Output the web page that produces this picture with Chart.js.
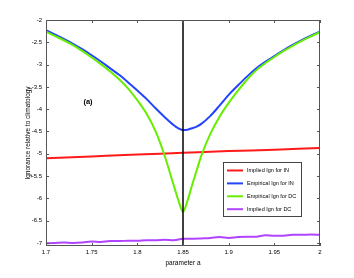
<!DOCTYPE html>
<html>
<head>
<meta charset="utf-8">
<script src="https://cdn.jsdelivr.net/npm/chart.js"></script>
<style>
html, body { margin: 0; padding: 0; background: #fff; }
#wrap { width: 354px; height: 278px; }
</style>
</head>
<body>
<div id="wrap"><canvas id="chart" width="354" height="278"></canvas></div>
<script>
// parameter a (x axis), shared by most series
const paramA = [1.70, 1.71, 1.72, 1.73, 1.74, 1.75, 1.76, 1.77, 1.78, 1.79, 1.80,
                1.81, 1.82, 1.83, 1.84, 1.845, 1.85, 1.855, 1.86, 1.865, 1.87, 1.88, 1.89, 1.90,
                1.91, 1.92, 1.93, 1.94, 1.95, 1.96, 1.97, 1.98, 1.99, 2.00];

// Empirical Ign for IN (blue)
const empiricalIN = [-2.23, -2.33, -2.43, -2.54, -2.66, -2.79, -2.93, -3.08, -3.23, -3.40, -3.58,
                     -3.77, -3.98, -4.18, -4.36, -4.43, -4.47, -4.46, -4.43, -4.39, -4.33, -4.15, -3.92, -3.68,
                     -3.47, -3.27, -3.09, -2.94, -2.81, -2.68, -2.56, -2.45, -2.35, -2.26];

// Empirical Ign for DC (green), sharp dip at 1.85
const empiricalDC = [-2.26, -2.36, -2.46, -2.57, -2.70, -2.84, -2.99, -3.15, -3.33, -3.54, -3.80,
                     -4.10, -4.50, -5.05, -5.72, -6.05, -6.30, -6.05, -5.70, -5.37, -5.05, -4.55, -4.17, -3.86,
                     -3.59, -3.34, -3.13, -2.97, -2.83, -2.70, -2.58, -2.47, -2.37, -2.27];

// Implied Ign for IN (red)
const paramAIN = [1.70, 1.75, 1.80, 1.85, 1.90, 1.95, 2.00];
const impliedIN = [-5.10, -5.06, -5.02, -4.98, -4.94, -4.91, -4.87];

// Implied Ign for DC (purple)
const paramAImp = [1.70, 1.71, 1.72, 1.73, 1.74, 1.75, 1.76, 1.77, 1.78, 1.79, 1.80,
                   1.81, 1.82, 1.83, 1.84, 1.85, 1.86, 1.87, 1.88, 1.89, 1.90,
                   1.91, 1.92, 1.93, 1.94, 1.95, 1.96, 1.97, 1.98, 1.99, 2.00];
const impliedDC = [-7.01, -7.00, -6.99, -7.00, -6.99, -6.97, -6.98, -6.96, -6.96, -6.95, -6.95,
                   -6.94, -6.94, -6.93, -6.94, -6.91, -6.91, -6.90, -6.89, -6.87, -6.89,
                   -6.87, -6.86, -6.86, -6.83, -6.84, -6.84, -6.82, -6.82, -6.81, -6.82];

const seriesLabels = ['Implied Ign for IN', 'Empirical Ign for IN', 'Empirical Ign for DC', 'Implied Ign for DC'];
const xTickValues = [1.7, 1.75, 1.8, 1.85, 1.9, 1.95, 2.0];
const yTickValues = [-7, -6.5, -6, -5.5, -5, -4.5, -4, -3.5, -3, -2.5, -2];
const markerA = 1.85;

const tickFont = { family: '"Liberation Sans", Arial, sans-serif', size: 6 };
const titleFont = { family: '"Liberation Sans", Arial, sans-serif', size: 6.5 };

function toPoints(xs, ys) {
    return xs.map((v, i) => ({ x: v, y: ys[i] }));
}

function fmt(v) {
    return String(Math.round(v * 100) / 100);
}

/**
 * Box, inward ticks, vertical marker, "(a)" and the legend (MATLAB look)
 */
const matlabFrame = {
    id: 'matlabFrame',
    afterDatasetsDraw(chart) {
        const { ctx, chartArea: a, scales: { x, y } } = chart;
        ctx.save();

        // vertical marker line
        const mx = x.getPixelForValue(markerA);
        ctx.strokeStyle = '#000';
        ctx.lineWidth = 1.5;
        ctx.beginPath();
        ctx.moveTo(mx, a.top);
        ctx.lineTo(mx, a.bottom);
        ctx.stroke();

        // box
        ctx.strokeStyle = '#555';
        ctx.lineWidth = 1;
        ctx.strokeRect(a.left + 0.5, a.top + 0.5, a.width - 1, a.height - 1);

        // inward ticks on all four sides
        const tl = 3;
        ctx.beginPath();
        xTickValues.forEach(v => {
            const px = Math.round(x.getPixelForValue(v)) + 0.5;
            ctx.moveTo(px, a.bottom); ctx.lineTo(px, a.bottom - tl);
            ctx.moveTo(px, a.top); ctx.lineTo(px, a.top + tl);
        });
        yTickValues.forEach(v => {
            const py = Math.round(y.getPixelForValue(v)) + 0.5;
            ctx.moveTo(a.left, py); ctx.lineTo(a.left + tl, py);
            ctx.moveTo(a.right, py); ctx.lineTo(a.right - tl, py);
        });
        ctx.stroke();

        // panel label
        ctx.fillStyle = '#000';
        ctx.font = 'bold 7.5px "Liberation Sans", Arial, sans-serif';
        ctx.textAlign = 'center';
        ctx.textBaseline = 'middle';
        ctx.fillText('(a)', x.getPixelForValue(1.746), y.getPixelForValue(-3.84));

        // legend
        const lx = a.left + 177, ly = a.top + 142, lw = 78, lh = 54;
        ctx.fillStyle = '#fff';
        ctx.fillRect(lx, ly, lw, lh);
        ctx.strokeStyle = '#444';
        ctx.strokeRect(lx + 0.5, ly + 0.5, lw, lh);
        ctx.font = '5.5px "Liberation Sans", Arial, sans-serif';
        ctx.textAlign = 'left';
        chart.data.datasets.forEach((ds, i) => {
            const ry = ly + 8.5 + i * 12.9;
            ctx.strokeStyle = ds.borderColor;
            ctx.lineWidth = 2;
            ctx.beginPath();
            ctx.moveTo(lx + 4, ry);
            ctx.lineTo(lx + 20, ry);
            ctx.stroke();
            ctx.fillStyle = '#000';
            ctx.fillText(ds.label, lx + 24, ry);
        });
        ctx.restore();
    }
};

const chart = new Chart(document.getElementById('chart'), {
    type: 'line',
    data: {
        datasets: [
            { label: seriesLabels[0], data: toPoints(paramAIN, impliedIN), borderColor: '#ff1a1a', order: 3 },
            { label: seriesLabels[1], data: toPoints(paramA, empiricalIN), borderColor: '#2244ff', order: 2 },
            { label: seriesLabels[2], data: toPoints(paramA, empiricalDC), borderColor: '#66ee00', order: 1 },
            { label: seriesLabels[3], data: toPoints(paramAImp, impliedDC), borderColor: '#b044ff', order: 0 }
        ]
    },
    options: {
        responsive: false,
        animation: false,
        devicePixelRatio: 1,
        layout: { padding: { left: 24, right: 34, top: 20, bottom: 11 } },
        elements: {
            point: { radius: 0 },
            line: { borderWidth: 2, cubicInterpolationMode: 'monotone', fill: false }
        },
        plugins: {
            legend: { display: false },
            tooltip: { enabled: false }
        },
        scales: {
            x: {
                type: 'linear',
                min: 1.7,
                max: 2.0,
                grid: { display: false, drawTicks: false },
                border: { display: false },
                ticks: { padding: 3, font: tickFont, color: '#000', autoSkip: false, maxRotation: 0, callback: fmt },
                afterBuildTicks: s => { s.ticks = xTickValues.map(v => ({ value: v })); },
                afterFit: s => { s.height = 21; },
                title: { display: true, text: 'parameter a', font: titleFont, color: '#000', padding: 0 }
            },
            y: {
                type: 'linear',
                min: -7.07,
                max: -2,
                grid: { display: false, drawTicks: false },
                border: { display: false },
                ticks: { padding: 4, font: tickFont, color: '#000', autoSkip: false, callback: fmt },
                afterBuildTicks: s => { s.ticks = yTickValues.map(v => ({ value: v })); },
                afterFit: s => { s.width = 22; },
                title: { display: true, text: 'Ignorance relative to climatology', font: titleFont, color: '#000', padding: 0 }
            }
        }
    },
    plugins: [matlabFrame]
});
</script>
</body>
</html>
